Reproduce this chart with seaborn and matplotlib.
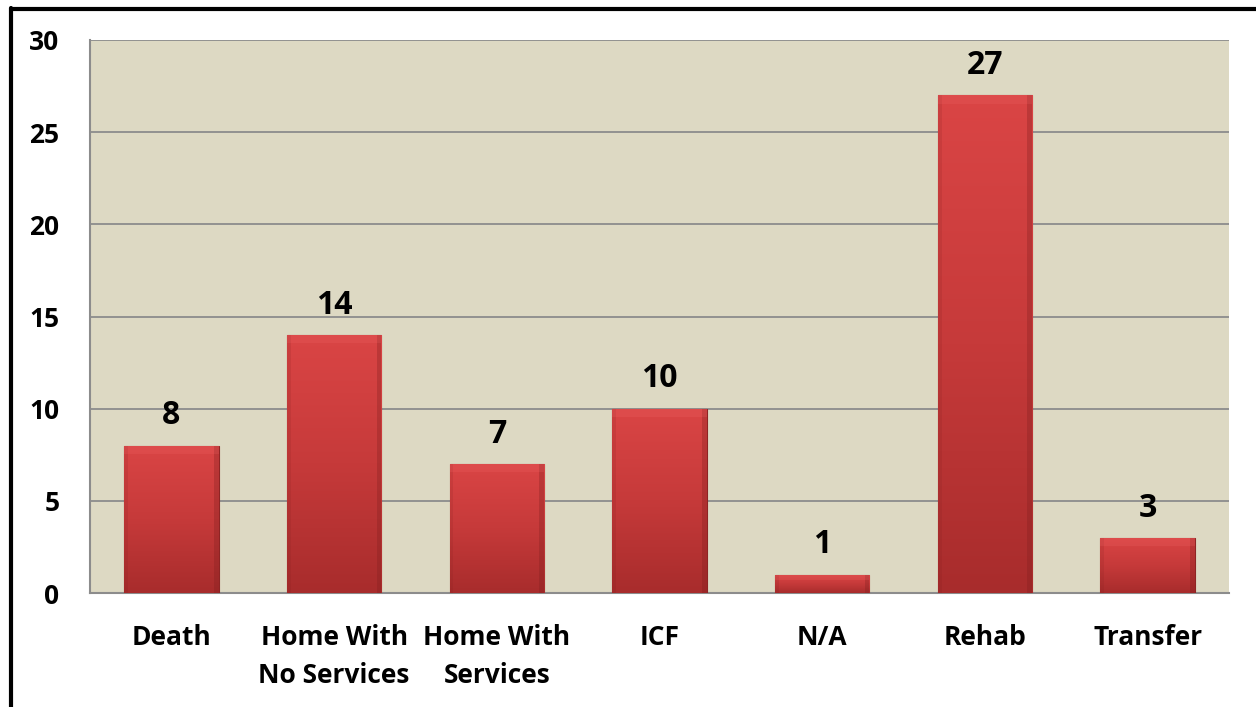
import matplotlib
matplotlib.use("Agg")
import matplotlib.pyplot as plt
import seaborn as sns
import numpy as np
import pandas as pd
from matplotlib.colors import LinearSegmentedColormap
from matplotlib.lines import Line2D

categories = ["Death", "Home With\nNo Services", "Home With\nServices", "ICF", "N/A", "Rehab", "Transfer"]
values = [8, 14, 7, 10, 1, 27, 3]
yticks = [0, 5, 10, 15, 20, 25, 30]

df = pd.DataFrame({"cat": categories, "val": values})

sns.set_theme(style="white")
plt.rcParams["font.family"] = ["Open Sans", "DejaVu Sans"]

fig = plt.figure(figsize=(12.56, 7.07), dpi=100)
ax = fig.add_axes([90/1256, 1-593/707, (1229-90)/1256, (593-40)/707])
ax.set_facecolor("#DDD9C3")

sns.barplot(data=df, x="cat", y="val", ax=ax, color="#C93B3B", width=0.58,
            saturation=1, edgecolor="#8E2424", linewidth=0.8, zorder=3)

ax.set_ylim(0, 30)
ax.set_yticks(yticks)
ax.set_xlim(-0.5, len(categories) - 0.5)
ax.yaxis.grid(True, color="#8C8C8C", linewidth=1.3, zorder=0)
ax.set_axisbelow(True)

# gradient fill on each bar
cmap = LinearSegmentedColormap.from_list("rg", ["#A82C2C", "#C63A3A", "#DA4545"])
grad = np.linspace(0, 1, 256).reshape(-1, 1)
for p in ax.patches:
    x0, y0 = p.get_x(), p.get_y()
    w, h = p.get_width(), p.get_height()
    im = ax.imshow(grad, cmap=cmap, aspect="auto", origin="lower",
                   extent=[x0, x0 + w, y0, y0 + h], zorder=3.5)
    im.set_clip_path(p)
    # subtle bevel shading
    ax.add_patch(plt.Rectangle((x0 + w * 0.95, y0), w * 0.05, h, color="#7E1E1E", alpha=0.3, zorder=3.6, linewidth=0))
    ax.add_patch(plt.Rectangle((x0, y0), w * 0.04, h, color="#7E1E1E", alpha=0.15, zorder=3.6, linewidth=0))
    ax.add_patch(plt.Rectangle((x0, y0 + h - min(0.45, h * 0.3)), w, min(0.45, h * 0.3), color="#F26A6A", alpha=0.2, zorder=3.6, linewidth=0))

for i, v in enumerate(values):
    ax.annotate(str(v), xy=(i, v), xytext=(0, 9.5), textcoords="offset points",
                ha="center", va="bottom", fontsize=23, fontweight="bold", color="black")

ax.set_xlabel("")
ax.set_ylabel("")
ax.tick_params(axis="x", length=0, pad=22, labelsize=19)
ax.tick_params(axis="y", length=0, pad=22, labelsize=19)
for lab in ax.get_xticklabels() + ax.get_yticklabels():
    lab.set_fontweight("bold")
    lab.set_color("black")
for lab in ax.get_xticklabels():
    lab.set_linespacing(1.55)

for s in ["top", "right"]:
    ax.spines[s].set_visible(False)
for s in ["left", "bottom"]:
    ax.spines[s].set_color("#8C8C8C")
    ax.spines[s].set_linewidth(1.5)

# figure frame lines (left and top)
fig.add_artist(Line2D([11/1256, 11/1256], [0, 1-8/707], color="black", linewidth=3, transform=fig.transFigure))
fig.add_artist(Line2D([11/1256, 1], [1-8.5/707, 1-8.5/707], color="black", linewidth=3, transform=fig.transFigure))

fig.savefig("out.png", dpi=100, facecolor="white")
